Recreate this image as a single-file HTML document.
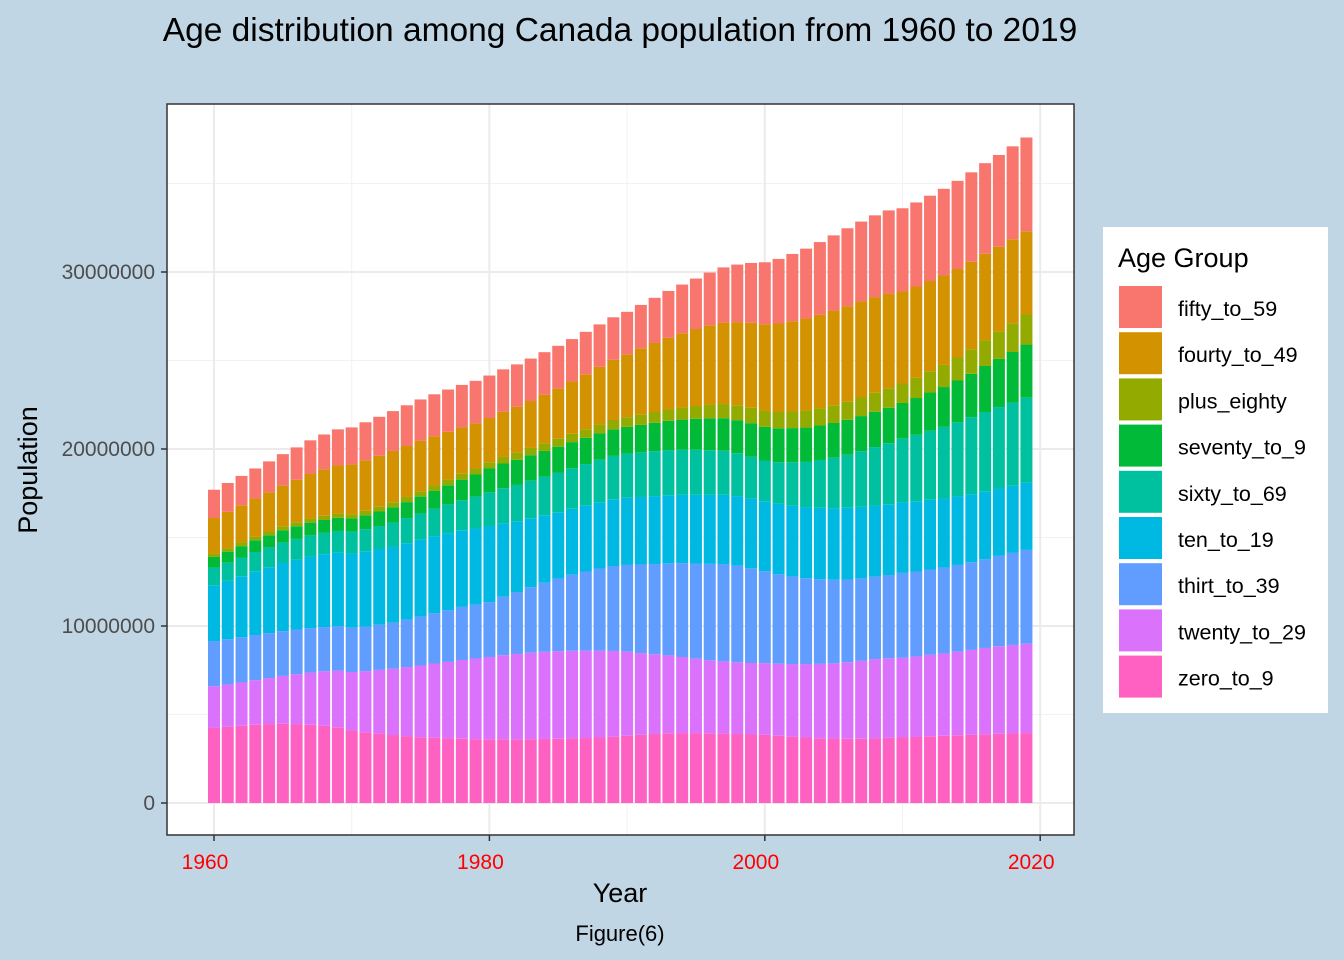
<!DOCTYPE html>
<html><head><meta charset="utf-8"><style>
body{margin:0;background:#C1D6E5;}
svg{display:block;font-family:"Liberation Sans",Arial,sans-serif;}
</style></head><body>
<svg id="chart" width="1344" height="960">
<rect x="0" y="0" width="1344" height="960" fill="#C1D6E5"/>
<text x="620" y="41" text-anchor="middle" font-size="33.5" fill="#000">Age distribution among Canada population from 1960 to 2019</text>
<rect x="167" y="104" width="907" height="731" fill="#fff"/>
<g id="grid"></g>
<g id="bars"></g>
<rect x="167" y="104" width="907" height="731" fill="none" stroke="#333" stroke-width="1.5"/>
<g id="axes"></g>
<text x="620" y="902" text-anchor="middle" font-size="27" fill="#000">Year</text>
<text transform="translate(37,470) rotate(-90)" text-anchor="middle" font-size="27" fill="#000">Population</text>
<text x="620" y="941" text-anchor="middle" font-size="22" fill="#000">Figure(6)</text>
<g id="legend"></g>
</svg>
<script>
const years = [];
for (let y = 1960; y <= 2019; y++) years.push(y);
const groups = ["zero_to_9","twenty_to_29","thirt_to_39","ten_to_19","sixty_to_69","seventy_to_9","plus_eighty","fourty_to_49","fifty_to_59"];
const colors = {fifty_to_59:"#F8766D",fourty_to_49:"#D39200",plus_eighty:"#93AA00",seventy_to_9:"#00BA38",sixty_to_69:"#00C19F",ten_to_19:"#00B9E3",thirt_to_39:"#619CFF",twenty_to_29:"#DB72FB",zero_to_9:"#FF61C3"};
const legendOrder = ["fifty_to_59","fourty_to_49","plus_eighty","seventy_to_9","sixty_to_69","ten_to_19","thirt_to_39","twenty_to_29","zero_to_9"];
// values in millions
const zero_to_9 = [4.24,4.30,4.36,4.42,4.46,4.48,4.46,4.42,4.36,4.28,4.10,4.00,3.92,3.84,3.78,3.72,3.68,3.65,3.63,3.61,3.60,3.60,3.60,3.61,3.62,3.63,3.65,3.67,3.70,3.74,3.80,3.85,3.90,3.94,3.95,3.95,3.94,3.92,3.90,3.87,3.85,3.80,3.75,3.70,3.66,3.64,3.63,3.63,3.65,3.68,3.70,3.73,3.77,3.80,3.83,3.85,3.88,3.91,3.93,3.95];
const twenty_to_29 = [2.36,2.40,2.45,2.52,2.60,2.70,2.82,2.95,3.08,3.20,3.30,3.45,3.60,3.75,3.90,4.05,4.20,4.32,4.45,4.55,4.65,4.75,4.82,4.88,4.92,4.95,4.95,4.93,4.90,4.85,4.75,4.62,4.50,4.40,4.30,4.20,4.12,4.08,4.05,4.04,4.05,4.07,4.10,4.15,4.20,4.25,4.32,4.40,4.48,4.50,4.50,4.55,4.60,4.65,4.72,4.80,4.88,4.95,5.00,5.05];
const thirt_to_39 = [2.55,2.55,2.55,2.55,2.54,2.53,2.52,2.51,2.50,2.50,2.50,2.52,2.55,2.60,2.68,2.76,2.85,2.93,3.00,3.05,3.10,3.30,3.50,3.70,3.90,4.10,4.30,4.48,4.65,4.80,4.90,5.00,5.10,5.20,5.30,5.38,5.45,5.50,5.45,5.35,5.20,5.05,4.95,4.85,4.78,4.72,4.68,4.66,4.66,4.70,4.80,4.80,4.82,4.85,4.90,4.95,5.02,5.10,5.20,5.30];
const ten_to_19 = [3.15,3.30,3.45,3.60,3.72,3.85,3.95,4.05,4.12,4.18,4.20,4.25,4.28,4.30,4.32,4.35,4.35,4.35,4.33,4.30,4.30,4.15,4.00,3.90,3.82,3.75,3.72,3.72,3.74,3.77,3.80,3.82,3.84,3.85,3.86,3.88,3.90,3.92,3.94,3.95,3.95,3.98,4.00,4.02,4.04,4.05,4.05,4.04,4.02,4.00,4.00,3.97,3.94,3.90,3.87,3.85,3.83,3.81,3.80,3.80];
const sixty_to_69 = [1.00,1.03,1.06,1.09,1.12,1.15,1.17,1.19,1.20,1.21,1.22,1.25,1.30,1.36,1.42,1.48,1.55,1.62,1.70,1.80,1.90,1.98,2.05,2.12,2.18,2.24,2.30,2.35,2.40,2.45,2.50,2.52,2.54,2.55,2.55,2.55,2.52,2.48,2.42,2.36,2.30,2.35,2.45,2.55,2.70,2.85,3.00,3.15,3.30,3.45,3.60,3.75,3.90,4.05,4.20,4.35,4.48,4.60,4.70,4.80];
const seventy_to_9 = [0.60,0.62,0.64,0.66,0.68,0.70,0.71,0.72,0.73,0.74,0.75,0.78,0.82,0.86,0.90,0.95,1.00,1.08,1.16,1.25,1.35,1.40,1.42,1.44,1.45,1.46,1.47,1.48,1.49,1.50,1.50,1.55,1.60,1.65,1.70,1.75,1.80,1.84,1.87,1.89,1.90,1.92,1.93,1.94,1.95,1.96,1.97,1.98,1.99,2.00,2.00,2.08,2.16,2.25,2.35,2.45,2.60,2.72,2.85,3.00];
const plus_eighty = [0.20,0.20,0.21,0.21,0.22,0.22,0.23,0.23,0.24,0.24,0.25,0.26,0.27,0.28,0.29,0.30,0.31,0.32,0.33,0.34,0.35,0.37,0.39,0.41,0.43,0.45,0.47,0.49,0.51,0.53,0.55,0.58,0.61,0.64,0.68,0.72,0.76,0.80,0.84,0.87,0.90,0.92,0.94,0.96,0.98,1.00,1.02,1.05,1.08,1.10,1.10,1.15,1.20,1.25,1.30,1.38,1.46,1.54,1.62,1.70];
const fourty_to_49 = [2.00,2.05,2.10,2.15,2.22,2.30,2.40,2.52,2.62,2.72,2.80,2.85,2.88,2.90,2.88,2.85,2.78,2.70,2.62,2.55,2.50,2.55,2.60,2.65,2.75,2.85,2.95,3.10,3.25,3.40,3.55,3.75,3.90,4.05,4.20,4.35,4.50,4.60,4.70,4.80,4.90,5.00,5.10,5.20,5.28,5.35,5.40,5.42,5.40,5.35,5.20,5.15,5.10,5.05,5.00,4.95,4.88,4.80,4.75,4.70];
const fifty_to_59 = [1.60,1.63,1.66,1.70,1.74,1.78,1.83,1.90,1.97,2.04,2.10,2.15,2.20,2.25,2.30,2.34,2.37,2.39,2.40,2.40,2.40,2.40,2.40,2.40,2.40,2.40,2.40,2.40,2.40,2.40,2.40,2.45,2.55,2.65,2.75,2.85,2.98,3.12,3.25,3.38,3.50,3.65,3.80,3.95,4.10,4.25,4.40,4.52,4.62,4.70,4.70,4.75,4.82,4.90,4.98,5.05,5.12,5.18,5.25,5.30];
const series = {zero_to_9,twenty_to_29,thirt_to_39,ten_to_19,sixty_to_69,seventy_to_9,plus_eighty,fourty_to_49,fifty_to_59};
const yTicks = [0,10000000,20000000,30000000];
const yTickLabels = ["0","10000000","20000000","30000000"];
const yMinor = [5000000,15000000,25000000,35000000];
const xTicks = [1960,1980,2000,2020];
const xMinor = [1970,1990,2010];

const NS = "http://www.w3.org/2000/svg";
const xS = yr => 214 + (yr - 1960) * 13.77;
const yS = v => 803 - v * 0.0000177;
function mk(tag, attrs, parent){const e=document.createElementNS(NS,tag);for(const k in attrs)e.setAttribute(k,attrs[k]);parent.appendChild(e);return e;}
const grid=document.getElementById('grid'), bars=document.getElementById('bars'), axes=document.getElementById('axes'), legend=document.getElementById('legend');
yMinor.forEach(v=>{const l=mk('line',{x1:167,x2:1074,y1:yS(v),y2:yS(v),stroke:'#F2F2F2','stroke-width':1},grid);

});
xMinor.forEach(v=>{const l=mk('line',{x1:xS(v),x2:xS(v),y1:104,y2:835,stroke:'#F2F2F2','stroke-width':1},grid);

});
yTicks.forEach((v,i)=>{const l=mk('line',{x1:167,x2:1074,y1:yS(v),y2:yS(v),stroke:'#EBEBEB','stroke-width':2},grid);


const t=mk('line',{x1:161,x2:167,y1:yS(v),y2:yS(v),stroke:'#333','stroke-width':1.5},axes);


const tx=mk('text',{x:155,y:yS(v)+7,'text-anchor':'end','font-size':21,fill:'#4D4D4D'},axes);tx.textContent=yTickLabels[i];

});
xTicks.forEach(v=>{const l=mk('line',{x1:xS(v),x2:xS(v),y1:104,y2:835,stroke:'#EBEBEB','stroke-width':2},grid);


const t=mk('line',{x1:xS(v),x2:xS(v),y1:835,y2:841,stroke:'#333','stroke-width':1.5},axes);


const tx=mk('text',{x:xS(v)-9,y:869,'text-anchor':'middle','font-size':21,fill:'#FF0000'},axes);tx.textContent=String(v);

});
years.forEach((yr,i)=>{let cum=0;groups.forEach(g=>{const v=series[g][i]*1e6;const y0=yS(cum),y1=yS(cum+v);
const r=mk('rect',{x:xS(yr)-6,y:y1,width:12,height:Math.max(0,y0-y1),fill:colors[g]},bars);


cum+=v;});});
const lb=mk('rect',{x:1103,y:227,width:225,height:486,fill:'#fff'},legend);


const lt=mk('text',{x:1118,y:267,'font-size':27,fill:'#000'},legend);lt.textContent='Age Group';


legendOrder.forEach((g,i)=>{const y=286+i*46.2;
const k=mk('rect',{x:1119,y:y,width:43,height:42,fill:colors[g]},legend);


const t=mk('text',{x:1178,y:y+30,'font-size':21.5,fill:'#000'},legend);t.textContent=g;

});
</script>
</body></html>
